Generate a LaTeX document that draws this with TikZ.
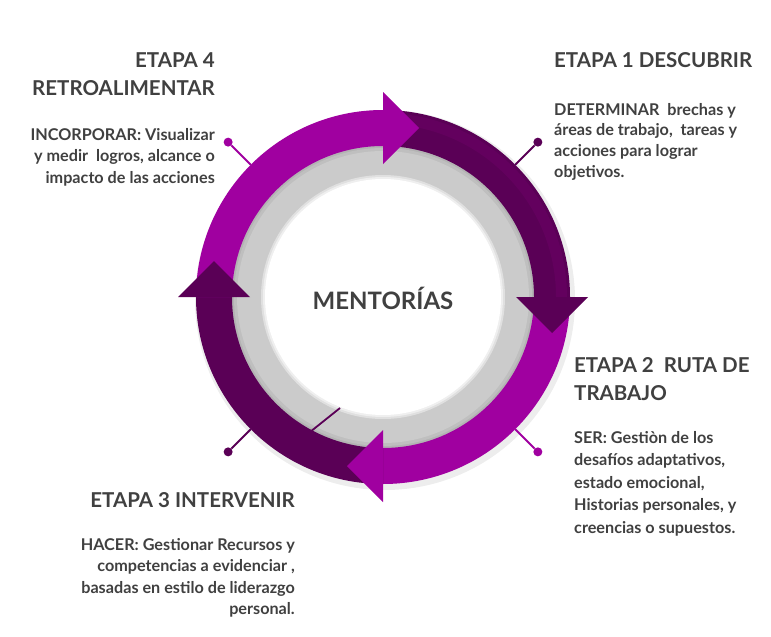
\documentclass[tikz,border=0pt]{standalone}
\usepackage{fontspec}
\setmainfont{Lato}
\usepackage{xcolor}
\usepackage{tikz}
\usetikzlibrary{calc}
\definecolor{mtmag}{HTML}{A000A0}
\definecolor{mtplum}{HTML}{5A0056}
\definecolor{mtplumlt}{HTML}{63005E}
\definecolor{mtring}{HTML}{CBCBCB}
\definecolor{mttext}{HTML}{404040}
\tikzset{
  stagehdr/.style={font=\fontsize{20.5}{28}\selectfont\bfseries, text=mttext, inner sep=0pt},
  stagetxt/.style={font=\fontsize{16.2}{21.5}\selectfont\bfseries, text=mttext, inner sep=0pt},
  pindot/.style={circle, inner sep=0pt, minimum size=9pt},
  pinline/.style={line width=2pt},
}

\begin{document}
\begin{tikzpicture}[x=1pt,y=1pt]
\fill[white] (0,0) rectangle (771,-637);
\useasboundingbox (0,0) rectangle (771,-637);
\coordinate (c) at (383,-297);

% --- gray ring and centre
\fill[black,opacity=0.07] ($(c)+(2,-3)$) circle[radius=190pt];
\fill[mtring!88!black] (c) circle[radius=152pt];
\fill[mtring!94!black] (c) circle[radius=149pt];
\fill[mtring] (c) circle[radius=146pt];
\fill[mtring!60!white] (c) circle[radius=122pt];
\fill[mtring!30!white] (c) circle[radius=120pt];
\fill[white] (c) circle[radius=118pt];

\begin{scope}[shift={(c)}]
% --- ring bodies
\fill[mtplum] (90:187pt) arc[start angle=90,end angle=0,radius=187pt]
   -- (0:151pt) arc[start angle=0,end angle=90,radius=151pt] -- cycle;
\fill[mtplumlt] (90:184pt) arc[start angle=90,end angle=0,radius=184pt]
   -- (0:173pt) arc[start angle=0,end angle=90,radius=173pt] -- cycle;
\fill[mtmag] (0:187pt) arc[start angle=0,end angle=-90,radius=187pt]
   -- (-90:151pt) arc[start angle=-90,end angle=0,radius=151pt] -- cycle;
\fill[mtplum] (-90:187pt) arc[start angle=-90,end angle=-180,radius=187pt]
   -- (-180:151pt) arc[start angle=-180,end angle=-90,radius=151pt] -- cycle;
\fill[mtmag] (180:187pt) arc[start angle=180,end angle=90,radius=187pt]
   -- (90:151pt) arc[start angle=90,end angle=180,radius=151pt] -- cycle;

% --- arrow heads
\fill[mtmag] (90:133pt) -- (90:205pt) -- ($(90:169pt)+(0:36pt)$) -- cycle;
\fill[mtplum] (0:133pt) -- (0:205pt) -- ($(0:169pt)+(-90:36pt)$) -- cycle;
\fill[mtmag] (-90:133pt) -- (-90:205pt) -- ($(-90:169pt)+(180:36pt)$) -- cycle;
\fill[mtplum] (180:133pt) -- (180:205pt) -- ($(180:169pt)+(90:36pt)$) -- cycle;
\end{scope}

% --- pins
\coordinate (p1) at ($(c)+(45:187pt)$);
\coordinate (p2) at ($(c)+(-45:187pt)$);
\coordinate (p3) at ($(c)+(-135:187pt)$);
\coordinate (p4) at ($(c)+(135:187pt)$);
\node[pindot,fill=mtplum] (d1) at ($(c)+(45:219pt)$) {};
\node[pindot,fill=mtmag] (d2) at ($(c)+(-45:219pt)$) {};
\node[pindot,fill=mtplum] (d3) at ($(c)+(-135:219pt)$) {};
\node[pindot,fill=mtmag] (d4) at ($(c)+(135:219pt)$) {};
\draw[pinline,mtplum] (p1) -- (d1);
\draw[pinline,mtmag] (p2) -- (d2);
\draw[pinline,mtplum] (p3) -- (d3);
\draw[pinline,mtmag] (p4) -- (d4);
\coordinate (s1) at (310,-432);
\coordinate (s2) at (340,-408);
\draw[mtplum,line width=1.8pt] (s1) -- (s2);

% --- texts (base = last line)
\node[font=\fontsize{24}{28}\selectfont\bfseries,text=mttext,inner sep=0pt,anchor=base] (mid) at (383,-309) {MENTORÍAS};

\node[stagehdr,align=left,anchor=base west] (h1) at (554,-67) {ETAPA 1 DESCUBRIR};
\node[stagetxt,align=left,anchor=base west,font=\fontsize{16.2}{20.6}\selectfont\bfseries] (t1) at (554,-177)
   {DETERMINAR\ \ brechas y\\áreas de trabajo,\ \ tareas y\\acciones para lograr\\objetivos.};

\node[stagehdr,align=left,anchor=base west] (h2) at (574,-400.5) {ETAPA 2\ \ RUTA DE\\TRABAJO};
\node[stagetxt,align=left,anchor=base west,font=\fontsize{16.2}{22.5}\selectfont\bfseries] (t2) at (574,-533)
   {SER: Gestiòn de los\\desafíos adaptativos,\\estado emocional,\\Historias personales, y\\creencias o supuestos.};

\node[stagehdr,align=right,anchor=base east] (h3) at (295,-507) {ETAPA 3 INTERVENIR};
\node[stagetxt,align=right,anchor=base east] (t3) at (295,-614.5)
   {HACER: Gestionar Recursos y\\competencias a evidenciar ,\\basadas en estilo de liderazgo\\personal.};

\node[stagehdr,align=right,anchor=base east] (h4) at (215,-95) {ETAPA 4\\RETROALIMENTAR};
\node[stagetxt,align=right,anchor=base east] (t4) at (215,-183)
   {INCORPORAR: Visualizar\\y medir\ \ logros, alcance o\\impacto de las acciones};
\end{tikzpicture}
\end{document}
